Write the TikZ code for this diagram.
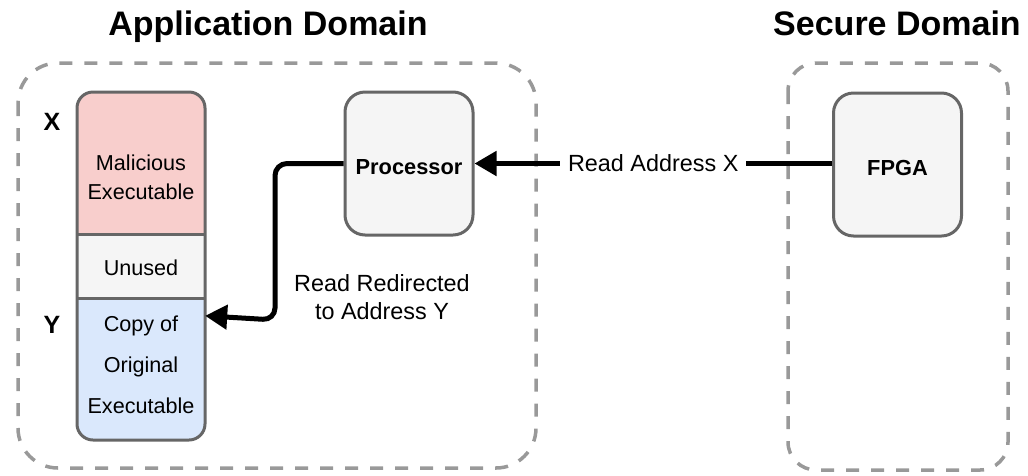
\documentclass[tikz,border=0pt]{standalone}
\usepackage{fontspec}
\setmainfont{Liberation Sans}
\usetikzlibrary{arrows.meta}
\definecolor{domainline}{HTML}{999999}
\definecolor{boxline}{HTML}{666666}
\definecolor{boxfill}{HTML}{F5F5F5}
\definecolor{malfill}{HTML}{F8CECC}
\definecolor{copyfill}{HTML}{DAE8FC}
\tikzset{
  domainbox/.style={draw=domainline, line width=3.5pt, dash pattern=on 13pt off 12pt},
  unitbox/.style={draw=boxline, fill=boxfill, line width=3pt, rounded corners=20pt,
    minimum width=128pt, minimum height=143pt, inner sep=0pt},
  unittext/.style={inner sep=0pt, font=\bfseries\fontsize{21.8}{26}\selectfont},
  memtext/.style={inner sep=0pt, align=center, font=\fontsize{21.6}{29}\selectfont},
  domtitle/.style={font=\bfseries\fontsize{34}{40}\selectfont, anchor=base},
  addrmark/.style={font=\bfseries\fontsize{25}{30}\selectfont},
  flow/.style={line width=5pt, -{Triangle[length=22pt,width=24pt]}},
  flowlabel/.style={fill=white, inner xsep=8pt, inner ysep=4pt, align=center,
    font=\fontsize{23.4}{28}\selectfont}
}
\begin{document}
\begin{tikzpicture}[x=1pt, y=-1pt]
\useasboundingbox (0,0) rectangle (1028,475);

% domain titles
\node[domtitle] (apptitle) at (268,35) {Application Domain};
\node[domtitle] (sectitle) at (897,35) {Secure Domain};

% dashed domain outlines
\draw[domainbox, rounded corners=40pt] (18,63) rectangle (536,468);
\draw[domainbox, rounded corners=28pt] (788,63) rectangle (1008,470);

% memory column sections
\fill[malfill, rounded corners=16pt] (77,234) -- (77,92) -- (205,92) [sharp corners] -- (205,234) -- cycle;
\fill[boxfill] (77,234) rectangle (205,298);
\fill[copyfill, rounded corners=16pt] (77,298) -- (77,440) -- (205,440) [sharp corners] -- (205,298) -- cycle;
\draw[boxline, line width=3pt, rounded corners=16pt] (77,92) rectangle (205,440);
\draw[boxline, line width=3pt] (77,234) -- (205,234) (77,298) -- (205,298);

\node[minimum width=128pt, minimum height=142pt, inner sep=0pt,
  label={[memtext, yshift=-14pt]center:Malicious\\Executable}] (mal) at (141,163) {};
\node[memtext, minimum width=128pt, minimum height=64pt] (unused) at (141,268) {Unused};
\node[memtext, minimum width=128pt, minimum height=142pt, font=\fontsize{21.6}{41}\selectfont] (copy) at (141,365) {Copy of\\Original\\Executable};

\node[addrmark] (xmark) at (52,122) {X};
\node[addrmark] (ymark) at (52,325) {Y};

% processing units
\node[unitbox, label={[unittext, yshift=-4pt]center:Processor}] (proc) at (409,163.5) {};
\node[unitbox, label={[unittext, yshift=-3pt]center:FPGA}] (fpga) at (897.5,164.5) {};

% connectors
\draw[flow] (fpga.west |- proc.east) -- node[flowlabel, pos=0.5] (readx) {Read Address X} (proc.east);
\coordinate (target) at ([yshift=-22pt]copy.north east);
\draw[flow, rounded corners=12pt] (proc.west) -- (275,163.5) -- (275,320) -- (target);
\node[flowlabel, fill=none] (redir) at (382,297) {Read Redirected\\to Address Y};
\end{tikzpicture}
\end{document}
